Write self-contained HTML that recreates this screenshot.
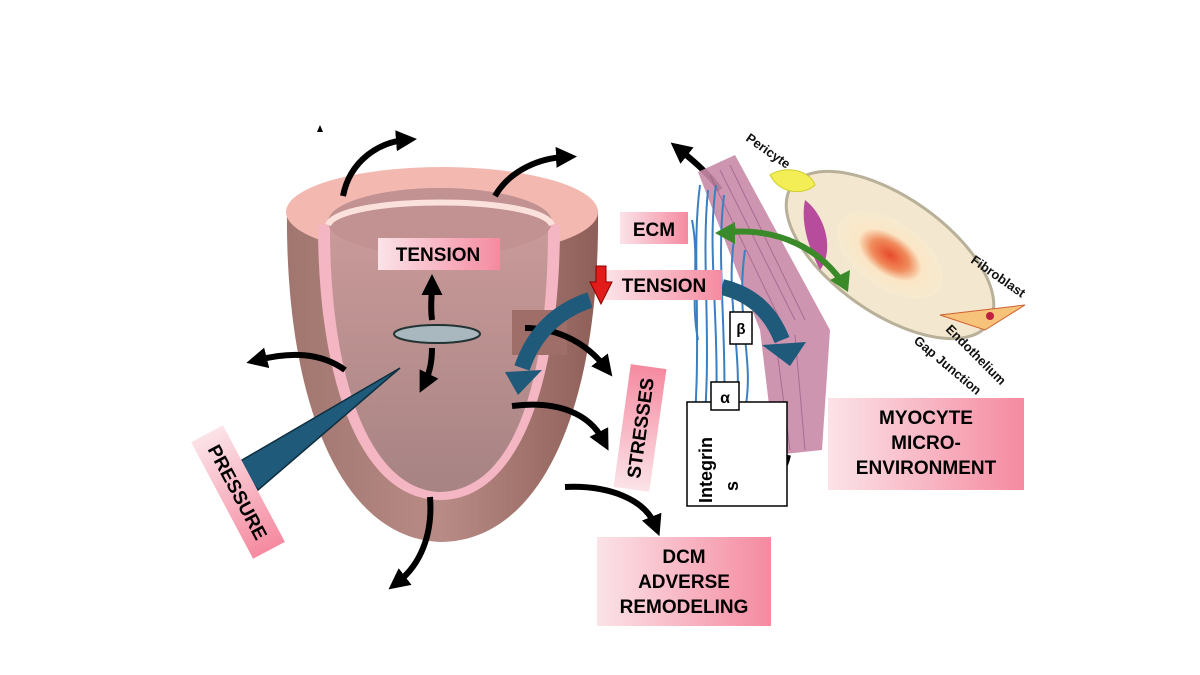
<!DOCTYPE html>
<html><head><meta charset="utf-8"><style>
html,body{margin:0;padding:0;background:#fff;}
svg{display:block;}
text{font-family:"Liberation Sans",Arial,sans-serif;font-weight:bold;}
</style></head><body>
<svg width="1200" height="675" viewBox="0 0 1200 675" xmlns="http://www.w3.org/2000/svg">
<defs>
<linearGradient id="hw" x1="0" y1="0" x2="1" y2="0">
<stop offset="0" stop-color="#a0766f"/><stop offset="0.5" stop-color="#b98b86"/><stop offset="1" stop-color="#8e5f58"/></linearGradient>
<linearGradient id="hin" x1="0" y1="0" x2="0" y2="1">
<stop offset="0" stop-color="#c99a99"/><stop offset="1" stop-color="#a78383"/></linearGradient>
<linearGradient id="lb" x1="0" y1="0" x2="1" y2="0">
<stop offset="0" stop-color="#fbe3e8"/><stop offset="1" stop-color="#f58aa0"/></linearGradient>
<marker id="ah" markerWidth="3.5" markerHeight="3.5" refX="1.5" refY="1.75" orient="auto" markerUnits="strokeWidth">
<path d="M0,0 L3.5,1.75 L0,3.5 z" fill="#000"/></marker>
<radialGradient id="cell" cx="0.5" cy="0.5" r="0.5">
<stop offset="0" stop-color="#e84a2a"/><stop offset="0.35" stop-color="#f08a5a"/><stop offset="0.6" stop-color="#fbe6c6"/><stop offset="1" stop-color="#f6ead0"/></radialGradient>
</defs>

<!-- heart -->
<path d="M287,210 C285,400 340,540 442,542 C545,540 600,400 598,210 Z" fill="url(#hw)"/>
<ellipse cx="442" cy="212" rx="156" ry="45" fill="#f3b8b0"/>
<path d="M318,225 C318,380 360,500 440,500 C520,500 560,380 560,225 Z" fill="#f4b6c2"/>
<path d="M330,228 C330,380 370,490 440,492 C515,490 548,380 548,228 Z" fill="url(#hin)"/>
<ellipse cx="440" cy="222" rx="112" ry="34" fill="#c29191"/>
<path d="M328,225 C340,195 540,195 552,225" fill="none" stroke="#fbe1dc" stroke-width="6"/>
<rect x="512" y="310" width="55" height="45" fill="#a06e68"/>

<ellipse cx="437" cy="334" rx="43" ry="9" fill="#a9b7bf" stroke="#233" stroke-width="2"/>

<g fill="none" stroke="#000" stroke-width="6" marker-end="url(#ah)">
<path d="M343,196 C350,160 380,142 405,140"/>
<path d="M495,196 C510,170 540,158 565,157"/>
<path d="M345,370 C320,352 290,352 258,360"/>
<path d="M432,320 C430,305 432,295 432,286"/>
<path d="M432,348 C432,362 430,372 425,382"/>
<path d="M525,328 C560,328 588,345 605,367"/>
<path d="M512,406 C560,400 590,415 603,440"/>
<path d="M565,487 C610,485 645,500 655,525"/>
<path d="M430,497 C433,535 420,565 398,582"/>
<path d="M720,190 C710,175 695,162 680,150"/>
</g>
<path d="M320,125 l3,7 h-6z" fill="#000"/>

<path d="M237,463 L258,490 L400,368 Z" fill="#1f5a7a" stroke="#0e2f40" stroke-width="1.5"/>
<path d="M590,300 C560,310 535,330 522,368" fill="none" stroke="#1f5a7a" stroke-width="16"/>
<path d="M505,372 L542,370 L518,395 Z" fill="#1f5a7a"/>

<!-- tissue strip -->
<path d="M698,172 L735,155 L830,330 L822,450 L775,455 L760,330 Z" fill="#c98aa8" opacity="0.9"/>
<g stroke="#9b5a85" stroke-width="1" opacity="0.7">
<path d="M710,175 L785,330"/><path d="M720,170 L795,320"/><path d="M730,165 L805,320"/><path d="M775,335 L790,450"/><path d="M795,335 L805,450"/>
</g>
<g fill="none" stroke="#3a7fc0" stroke-width="2">
<path d="M700,185 C690,260 705,340 690,480"/>
<path d="M708,190 C700,270 715,350 700,470"/>
<path d="M716,185 C705,260 725,340 712,470"/>
<path d="M724,195 C715,270 730,340 722,460"/>
<path d="M734,240 C725,300 745,360 735,420"/>
<path d="M745,250 C735,320 755,360 745,410"/>
<path d="M692,220 C700,260 690,300 698,340"/>
</g>
<path d="M722,287 C755,295 772,315 782,340" fill="none" stroke="#1f5a7a" stroke-width="16"/>
<path d="M762,345 L806,342 L790,366 Z" fill="#1f5a7a"/>
<path d="M788,455 C785,470 775,482 762,488" fill="none" stroke="#000" stroke-width="6" marker-end="url(#ah)"/>

<rect x="687" y="402" width="100" height="104" fill="#fff" stroke="#000" stroke-width="1.5"/>
<rect x="711" y="382" width="28" height="28" fill="#fff" stroke="#000" stroke-width="1.5"/>
<text x="725" y="403" font-size="16" text-anchor="middle" font-weight="normal">α</text>
<rect x="730" y="312" width="22" height="32" fill="#fff" stroke="#000" stroke-width="1.5"/>
<text x="741" y="334" font-size="15" text-anchor="middle" font-weight="normal">β</text>
<text transform="translate(712,470) rotate(-90)" font-size="18" text-anchor="middle">Integrin</text>
<text transform="translate(738,486) rotate(-90)" font-size="18" text-anchor="middle">s</text>

<g transform="rotate(35 890 255)">
<ellipse cx="890" cy="255" rx="120" ry="58" fill="#f3e7cf" stroke="#b9b09a" stroke-width="3"/>
<ellipse cx="890" cy="255" rx="60" ry="33" fill="url(#cell)"/>
</g>
<path d="M770,175 C785,165 810,170 815,185 C805,195 780,195 770,175Z" fill="#f3ee56" stroke="#cfcf30"/>
<path d="M805,200 C825,215 835,250 820,270 C810,250 800,225 805,200Z" fill="#b84c9c"/>
<path d="M940,315 L1025,305 L985,330 Z" fill="#f7c27a" stroke="#d06030"/>
<circle cx="990" cy="316" r="4" fill="#c02040"/>
<path d="M730,232 C780,228 820,250 842,282" fill="none" stroke="#3a8a2a" stroke-width="6"/>
<path d="M715,233 L735,222 L735,244 Z" fill="#3a8a2a"/>
<path d="M848,292 L830,280 L850,270 Z" fill="#3a8a2a"/>

<g font-size="13" fill="#111">
<text transform="translate(745,140) rotate(35)">Pericyte</text>
<text transform="translate(970,262) rotate(35)">Fibroblast</text>
<text transform="translate(945,330) rotate(45)">Endothelium</text>
<text transform="translate(913,342) rotate(40)">Gap Junction</text>
</g>

<rect x="378" y="238" width="122" height="32" fill="url(#lb)"/>
<text x="438" y="261" font-size="19" text-anchor="middle">TENSION</text>
<rect x="605" y="270" width="117" height="30" fill="url(#lb)"/>
<text x="664" y="292" font-size="19" text-anchor="middle">TENSION</text>
<path d="M596,266 h10 v16 h6 l-11,22 l-11,-22 h6 z" fill="#e21b1b" stroke="#800" stroke-width="1"/>
<rect x="620" y="212" width="68" height="32" fill="url(#lb)"/>
<text x="654" y="236" font-size="19" text-anchor="middle">ECM</text>
<rect x="828" y="398" width="196" height="92" fill="url(#lb)"/>
<text x="926" y="424" font-size="19" text-anchor="middle">MYOCYTE</text>
<text x="926" y="449" font-size="19" text-anchor="middle">MICRO-</text>
<text x="926" y="474" font-size="19" text-anchor="middle">ENVIRONMENT</text>
<rect x="597" y="537" width="174" height="89" fill="url(#lb)"/>
<text x="684" y="563" font-size="19" text-anchor="middle">DCM</text>
<text x="684" y="588" font-size="19" text-anchor="middle">ADVERSE</text>
<text x="684" y="613" font-size="19" text-anchor="middle">REMODELING</text>
<g transform="translate(238,492) rotate(62)">
<rect x="-66" y="-18" width="132" height="36" fill="url(#lb)"/>
<text x="0" y="7" font-size="19" text-anchor="middle">PRESSURE</text>
</g>
<g transform="translate(640,428) rotate(-82)">
<rect x="-62" y="-18" width="124" height="36" fill="url(#lb)"/>
<text x="0" y="7" font-size="19" text-anchor="middle">STRESSES</text>
</g>
</svg>
</body></html>
